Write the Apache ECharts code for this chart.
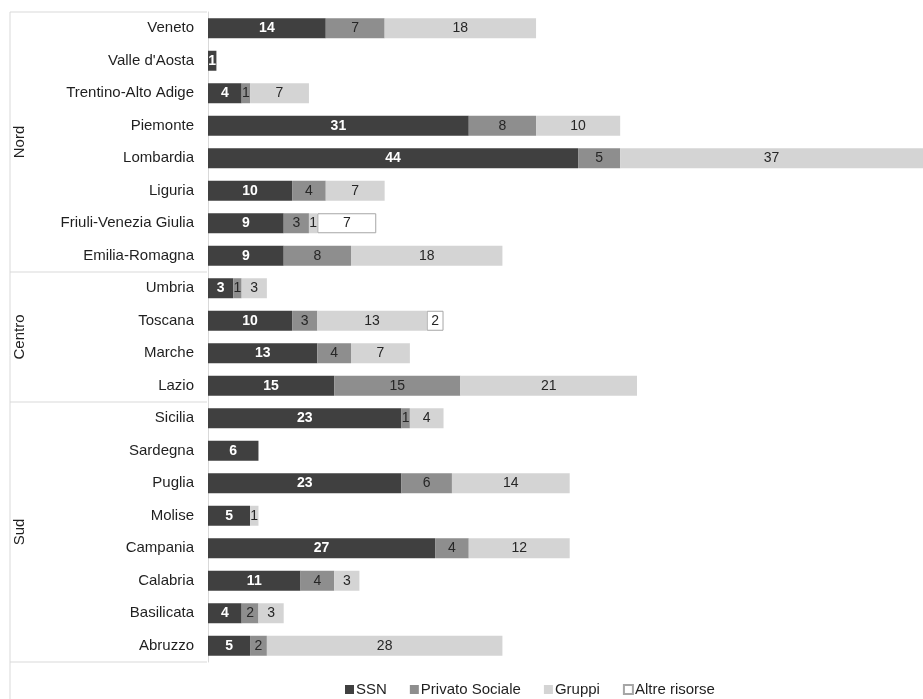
<!DOCTYPE html>
<html>
<head>
<meta charset="utf-8">
<script src="https://cdn.jsdelivr.net/npm/echarts@6/dist/echarts.min.js"></script>
<style>html,body{margin:0;padding:0;background:#fff}#c{width:923px;height:699px}</style>
</head>
<body>
<div id="c"></div>
<script>
var categories = ["Veneto","Valle d'Aosta","Trentino-Alto Adige","Piemonte","Lombardia","Liguria","Friuli-Venezia Giulia","Emilia-Romagna","Umbria","Toscana","Marche","Lazio","Sicilia","Sardegna","Puglia","Molise","Campania","Calabria","Basilicata","Abruzzo"];
var ssn     = [14,1,4,31,44,10,9,9,3,10,13,15,23,6,23,5,27,11,4,5];
var privato = [7,0,1,8,5,4,3,8,1,3,4,15,1,0,6,0,4,4,2,2];
var gruppi  = [18,0,7,10,37,7,1,18,3,13,7,21,4,0,14,1,12,3,3,28];
var altre   = [0,0,0,0,0,0,7,0,0,2,0,0,0,0,0,0,0,0,0,0];
var groupNames = ["Nord","Centro","Sud"];
var groupSizes = [8,4,8];
var seriesNames = ["SSN","Privato Sociale","Gruppi","Altre risorse"];

var FONT = "'Liberation Sans', Arial, sans-serif";
var chart = echarts.init(document.getElementById('c'), null, {renderer:'canvas'});

function mk(name, data, color, labelColor, bold, border) {
  return {
    name: name, type: 'bar', stack: 'total',
    data: data.map(function (v) { return v ? v : '-'; }),
    barWidth: 20,
    itemStyle: border ? {color: color, borderColor: '#a6a6a6', borderWidth: 1} : {color: color},
    label: {
      show: true, position: 'inside', color: labelColor, fontFamily: FONT,
      fontSize: 14, fontWeight: bold ? 'bold' : 'normal',
      formatter: function (p) { return p.value ? String(p.value) : ''; }
    },
    emphasis: {disabled: true}
  };
}

var option = {
  animation: false,
  textStyle: {fontFamily: FONT},
  grid: {left: 208, right: 0, top: 12, bottom: 37, containLabel: false},
  xAxis: {type: 'value', min: 0, max: 85, show: false},
  yAxis: {
    type: 'category', data: categories, inverse: true,
    axisLine: {show: true, lineStyle: {color: '#d9d9d9', width: 1}},
    axisTick: {show: false},
    axisLabel: {color: '#1f1f1f', fontSize: 15, fontFamily: FONT, margin: 14}
  },
  legend: {
    data: seriesNames, left: 345, top: 682, itemWidth: 9, itemHeight: 9, itemGap: 23,
    icon: 'rect', selectedMode: false, padding: 0,
    textStyle: {fontSize: 15, color: '#1f1f1f', fontFamily: FONT, padding: [0,0,0,-3]}
  },
  series: [
    mk(seriesNames[0], ssn, '#404040', '#ffffff', true, false),
    mk(seriesNames[1], privato, '#8e8e8e', '#262626', false, false),
    mk(seriesNames[2], gruppi, '#d4d4d4', '#262626', false, false),
    mk(seriesNames[3], altre, '#ffffff', '#262626', false, true)
  ]
};
chart.setOption(option);

// group brackets on the left, positioned through the category axis scale
var c0 = chart.convertToPixel({yAxisIndex: 0}, categories[0]);
var c1 = chart.convertToPixel({yAxisIndex: 0}, categories[1]);
var band = c1 - c0;
var xRight = chart.convertToPixel({xAxisIndex: 0}, 0) - 1;
var xLeft = 10;
var els = [];
var lineStyle = {stroke: '#d9d9d9', lineWidth: 1};
var idx = 0;
var topY = c0 - band / 2;
els.push({type: 'line', shape: {x1: xLeft, y1: topY, x2: xRight, y2: topY}, style: lineStyle, silent: true});
els.push({type: 'line', shape: {x1: xLeft, y1: topY, x2: xLeft, y2: 699}, style: lineStyle, silent: true});
for (var g = 0; g < groupNames.length; g++) {
  var yStart = chart.convertToPixel({yAxisIndex: 0}, categories[idx]) - band / 2;
  idx += groupSizes[g];
  var yEnd = chart.convertToPixel({yAxisIndex: 0}, categories[idx - 1]) + band / 2;
  els.push({type: 'line', shape: {x1: xLeft, y1: yEnd, x2: xRight, y2: yEnd}, style: lineStyle, silent: true});
  els.push({
    type: 'text', x: 20, y: (yStart + yEnd) / 2, rotation: Math.PI / 2, silent: true,
    style: {text: groupNames[g], fill: '#1f1f1f', font: '15px ' + FONT, align: 'center', verticalAlign: 'middle'}
  });
}
chart.setOption({graphic: {elements: els}});
</script>
</body>
</html>
